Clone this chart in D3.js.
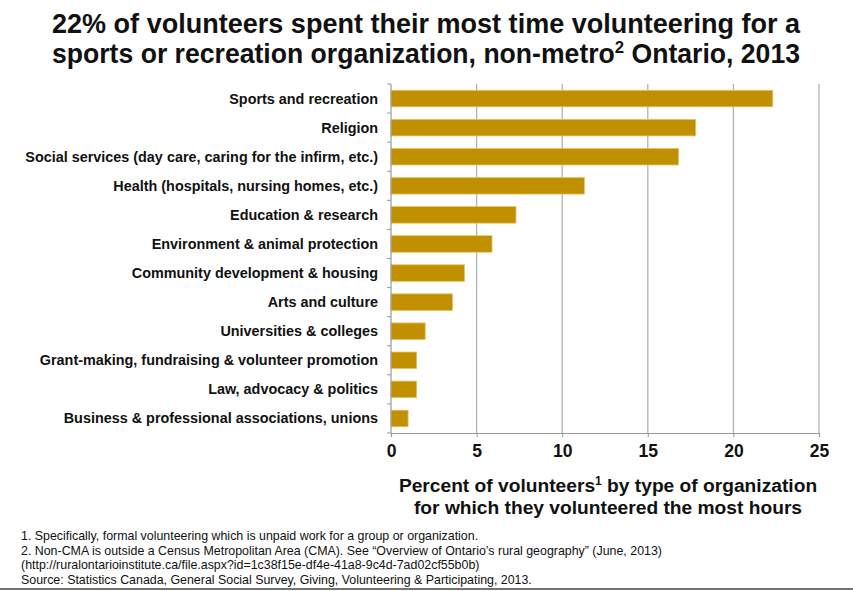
<!DOCTYPE html>
<html>
<head>
<meta charset="utf-8">
<script src="https://cdn.jsdelivr.net/npm/d3@7"></script>
<style>
  body { margin: 0; background: #fff; }
  svg { display: block; font-family: "Liberation Sans", Arial, sans-serif; }
</style>
</head>
<body>
<div id="app"></div>
<script>
// категории и значения (процент волонтёров)
const categories = [
  "Sports and recreation",
  "Religion",
  "Social services (day care, caring for the infirm, etc.)",
  "Health (hospitals, nursing homes, etc.)",
  "Education & research",
  "Environment & animal protection",
  "Community development & housing",
  "Arts and culture",
  "Universities & colleges",
  "Grant-making, fundraising & volunteer promotion",
  "Law, advocacy & politics",
  "Business & professional associations, unions"
];
const values = [22.3, 17.8, 16.8, 11.3, 7.3, 5.9, 4.3, 3.6, 2.0, 1.5, 1.5, 1.0];
const xTicks = [0, 5, 10, 15, 20, 25];

const width = 853, height = 591;
const margin = { left: 391, right: 34, top: 84, bottom: 158 };
const innerWidth = width - margin.left - margin.right;
const innerHeight = height - margin.top - margin.bottom;

const svg = d3.select('#app').append('svg')
  .attr('width', width)
  .attr('height', height);

// заголовок
const title = svg.append('g')
  .attr('font-weight', 'bold')
  .attr('font-size', 27)
  .attr('fill', '#111');
title.append('text')
  .attr('x', 52).attr('y', 33)
  .attr('textLength', 748).attr('lengthAdjust', 'spacingAndGlyphs')
  .text('22% of volunteers spent their most time volunteering for a');
const t2 = title.append('text')
  .attr('x', 52).attr('y', 63)
  .attr('textLength', 748).attr('lengthAdjust', 'spacingAndGlyphs');
t2.append('tspan').text('sports or recreation organization, non-metro');
t2.append('tspan').attr('font-size', 17).attr('dy', -10).text('2');
t2.append('tspan').attr('dy', 10).text(' Ontario, 2013');

const g = svg.append('g')
  .attr('transform', `translate(${margin.left},${margin.top})`);

const x = d3.scaleLinear().domain([0, 25]).range([0, innerWidth]);
const y = d3.scaleBand().domain(categories).range([0, innerHeight]).paddingInner(0.43).paddingOuter(0.215);

// сетка
g.selectAll('.grid')
  .data(xTicks.slice(1))
  .join('line')
  .attr('class', 'grid')
  .attr('x1', d => x(d)).attr('x2', d => x(d))
  .attr('y1', 0).attr('y2', innerHeight)
  .attr('stroke', '#b3b3b3')
  .attr('stroke-width', 1.3);

// столбики
g.selectAll('.bar')
  .data(values)
  .join('rect')
  .attr('class', 'bar')
  .attr('x', 0)
  .attr('y', (d, i) => y(categories[i]))
  .attr('width', d => x(d))
  .attr('height', y.bandwidth())
  .attr('fill', '#c09000')
  .attr('stroke', '#e6c766')
  .attr('stroke-width', 0.8);

// ось Y
const step = innerHeight / categories.length;
const yAxis = g.append('g');
yAxis.append('line')
  .attr('x1', 0).attr('x2', 0).attr('y1', 0).attr('y2', innerHeight)
  .attr('stroke', '#999').attr('stroke-width', 1.2);
yAxis.selectAll('.ytick')
  .data(d3.range(categories.length + 1))
  .join('line')
  .attr('x1', -4).attr('x2', 0)
  .attr('y1', d => d * step).attr('y2', d => d * step)
  .attr('stroke', '#999');
yAxis.selectAll('.ylabel')
  .data(categories)
  .join('text')
  .attr('x', -13)
  .attr('y', d => y(d) + y.bandwidth() / 2)
  .attr('dy', '0.35em')
  .attr('text-anchor', 'end')
  .attr('font-size', 14.4)
  .attr('font-weight', 'bold')
  .attr('fill', '#111')
  .text(d => d);

// ось X
const xAxis = g.append('g').attr('transform', `translate(0,${innerHeight})`)
  .call(d3.axisBottom(x).tickValues(xTicks).tickSize(4).tickPadding(8));
xAxis.select('.domain').attr('stroke', '#999').attr('stroke-width', 1.2);
xAxis.selectAll('line').attr('stroke', '#999');
xAxis.selectAll('text')
  .attr('font-size', 17.5)
  .attr('font-weight', 'bold')
  .attr('fill', '#111')
  .attr('font-family', '"Liberation Sans", Arial, sans-serif');

// подпись оси X
const xt = svg.append('g')
  .attr('font-weight', 'bold')
  .attr('font-size', 19.2)
  .attr('fill', '#111')
  .attr('text-anchor', 'middle');
const xl1 = xt.append('text').attr('x', 608).attr('y', 492);
xl1.append('tspan').text('Percent of volunteers');
xl1.append('tspan').attr('font-size', 12).attr('dy', -7).text('1');
xl1.append('tspan').attr('dy', 7).text(' by type of organization');
xt.append('text').attr('x', 608).attr('y', 514).text('for which they volunteered the most hours');

// сноски
const notes = [
  '1. Specifically, formal volunteering which is unpaid work for a group or organization.',
  '2. Non-CMA is outside a Census Metropolitan Area (CMA). See “Overview of Ontario’s rural geography” (June, 2013)',
  '(http://ruralontarioinstitute.ca/file.aspx?id=1c38f15e-df4e-41a8-9c4d-7ad02cf55b0b)',
  'Source: Statistics Canada, General Social Survey, Giving, Volunteering & Participating, 2013.'
];
svg.append('g')
  .attr('font-size', 12.4)
  .attr('fill', '#111')
  .selectAll('text')
  .data(notes)
  .join('text')
  .attr('x', 21)
  .attr('y', (d, i) => 540 + i * 14.5)
  .text(d => d);

svg.append('line')
  .attr('x1', 0).attr('x2', width)
  .attr('y1', 589).attr('y2', 589)
  .attr('stroke', '#444').attr('stroke-width', 1.5);
</script>
</body>
</html>
